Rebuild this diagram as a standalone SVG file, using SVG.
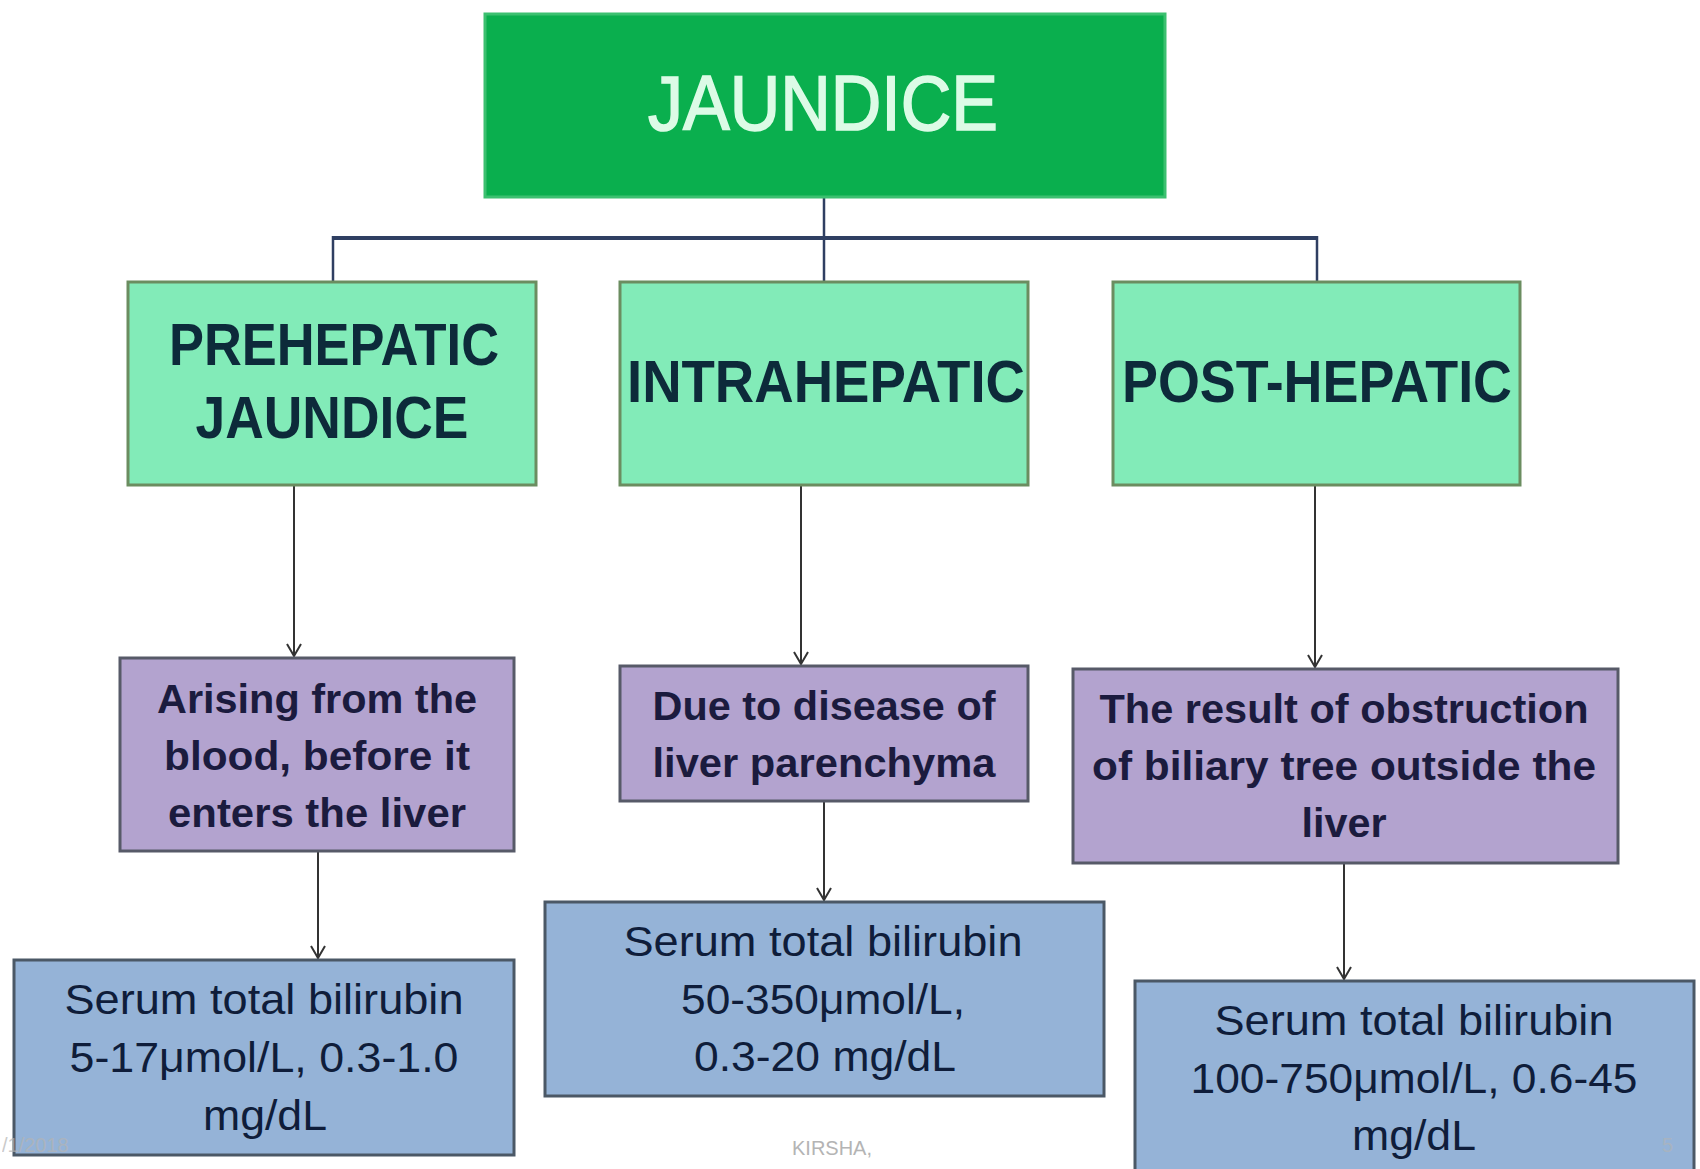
<svg xmlns="http://www.w3.org/2000/svg" width="1700" height="1169" viewBox="0 0 1700 1169">
<defs>
<style>
.t{font-family:"Liberation Sans",Arial,sans-serif;text-anchor:middle}
.top{font-size:77px;fill:#dcfbe6;stroke:#dcfbe6;stroke-width:1.6}
.l2{font-size:59px;font-weight:bold;fill:#0d2a3a}
.pu{font-size:40px;font-weight:bold;fill:#1b1b3e}
.bl{font-size:42px;fill:#0f1d3a}
.foot{font-size:20px;fill:#b4b4b4}
.g2{fill:#82ebb8;stroke:#6b8d60;stroke-width:3}
.pb{fill:#b3a3cf;stroke:#575a68;stroke-width:3}
.bb{fill:#95b3d7;stroke:#4b5866;stroke-width:3}
.tree{stroke:#2f3f62;fill:none}
.arr{stroke:#333;stroke-width:2;fill:none;marker-end:url(#ah)}
</style>
<marker id="ah" viewBox="0 -8 14 16" refX="13" refY="0" markerWidth="14" markerHeight="16" markerUnits="userSpaceOnUse" orient="auto">
<path d="M1,-7 L13,0 L1,7" fill="none" stroke="#333" stroke-width="2"/>
</marker>
</defs>
<rect width="1700" height="1169" fill="#ffffff"/>

<g id="connectors">
<line class="tree" x1="824" y1="197" x2="824" y2="282" stroke-width="2.5"/>
<line class="tree" x1="333" y1="238" x2="1317" y2="238" stroke-width="4"/>
<line class="tree" x1="333" y1="236" x2="333" y2="282" stroke-width="2.5"/>
<line class="tree" x1="1317" y1="236" x2="1317" y2="282" stroke-width="2.5"/>
<line class="arr" x1="294" y1="485" x2="294" y2="656"/>
<line class="arr" x1="801" y1="485" x2="801" y2="664"/>
<line class="arr" x1="1315" y1="485" x2="1315" y2="667"/>
<line class="arr" x1="318" y1="851" x2="318" y2="958"/>
<line class="arr" x1="824" y1="801" x2="824" y2="900"/>
<line class="arr" x1="1344" y1="863" x2="1344" y2="979"/>
</g>

<g id="jaundice">
<rect x="485" y="14" width="680" height="183" fill="#0aaf4e" stroke="#3cc070" stroke-width="3"/>
<text class="t top" x="823" y="130" textLength="350" lengthAdjust="spacingAndGlyphs">JAUNDICE</text>
</g>

<g id="prehepatic">
<rect class="g2" x="128" y="282" width="408" height="203"/>
<text class="t l2" x="334" y="365" textLength="330" lengthAdjust="spacingAndGlyphs">PREHEPATIC</text>
<text class="t l2" x="332" y="438" textLength="273" lengthAdjust="spacingAndGlyphs">JAUNDICE</text>
</g>

<g id="intrahepatic">
<rect class="g2" x="620" y="282" width="408" height="203"/>
<text class="t l2" x="826" y="402" textLength="398" lengthAdjust="spacingAndGlyphs">INTRAHEPATIC</text>
</g>

<g id="posthepatic">
<rect class="g2" x="1113" y="282" width="407" height="203"/>
<text class="t l2" x="1317" y="402" textLength="390" lengthAdjust="spacingAndGlyphs">POST-HEPATIC</text>
</g>

<g id="pre-desc">
<rect class="pb" x="120" y="658" width="394" height="193"/>
<text class="t pu" x="317" y="713" textLength="320" lengthAdjust="spacingAndGlyphs">Arising from the</text>
<text class="t pu" x="317" y="770" textLength="306" lengthAdjust="spacingAndGlyphs">blood, before it</text>
<text class="t pu" x="317" y="827" textLength="298" lengthAdjust="spacingAndGlyphs">enters the liver</text>
</g>

<g id="intra-desc">
<rect class="pb" x="620" y="666" width="408" height="135"/>
<text class="t pu" x="824" y="720" textLength="343" lengthAdjust="spacingAndGlyphs">Due to disease of</text>
<text class="t pu" x="824" y="777" textLength="343" lengthAdjust="spacingAndGlyphs">liver parenchyma</text>
</g>

<g id="post-desc">
<rect class="pb" x="1073" y="669" width="545" height="194"/>
<text class="t pu" x="1344" y="723" textLength="489" lengthAdjust="spacingAndGlyphs">The result of obstruction</text>
<text class="t pu" x="1344" y="780" textLength="504" lengthAdjust="spacingAndGlyphs">of biliary tree outside the</text>
<text class="t pu" x="1344" y="837" textLength="85" lengthAdjust="spacingAndGlyphs">liver</text>
</g>

<g id="pre-value">
<rect class="bb" x="14" y="960" width="500" height="195"/>
<text class="t bl" x="264" y="1014" textLength="399" lengthAdjust="spacingAndGlyphs">Serum total bilirubin</text>
<text class="t bl" x="264" y="1072" textLength="389" lengthAdjust="spacingAndGlyphs">5-17μmol/L, 0.3-1.0</text>
<text class="t bl" x="265" y="1130" textLength="124" lengthAdjust="spacingAndGlyphs">mg/dL</text>
</g>

<g id="intra-value">
<rect class="bb" x="545" y="902" width="559" height="194"/>
<text class="t bl" x="823" y="956" textLength="399" lengthAdjust="spacingAndGlyphs">Serum total bilirubin</text>
<text class="t bl" x="823" y="1014" textLength="284" lengthAdjust="spacingAndGlyphs">50-350μmol/L,</text>
<text class="t bl" x="825" y="1071" textLength="262" lengthAdjust="spacingAndGlyphs">0.3-20 mg/dL</text>
</g>

<g id="post-value">
<rect class="bb" x="1135" y="981" width="559" height="200"/>
<text class="t bl" x="1414" y="1035" textLength="399" lengthAdjust="spacingAndGlyphs">Serum total bilirubin</text>
<text class="t bl" x="1414" y="1093" textLength="447" lengthAdjust="spacingAndGlyphs">100-750μmol/L, 0.6-45</text>
<text class="t bl" x="1414" y="1150" textLength="124" lengthAdjust="spacingAndGlyphs">mg/dL</text>
</g>

<g id="footer">
<text class="t foot" x="832" y="1155">KIRSHA,</text>
<text class="foot" x="2" y="1152" font-family="Liberation Sans,Arial,sans-serif" opacity="0.7">/1/2018</text>
<text class="foot" x="1662" y="1152" font-family="Liberation Sans,Arial,sans-serif" opacity="0.6">5</text>
</g>
</svg>
